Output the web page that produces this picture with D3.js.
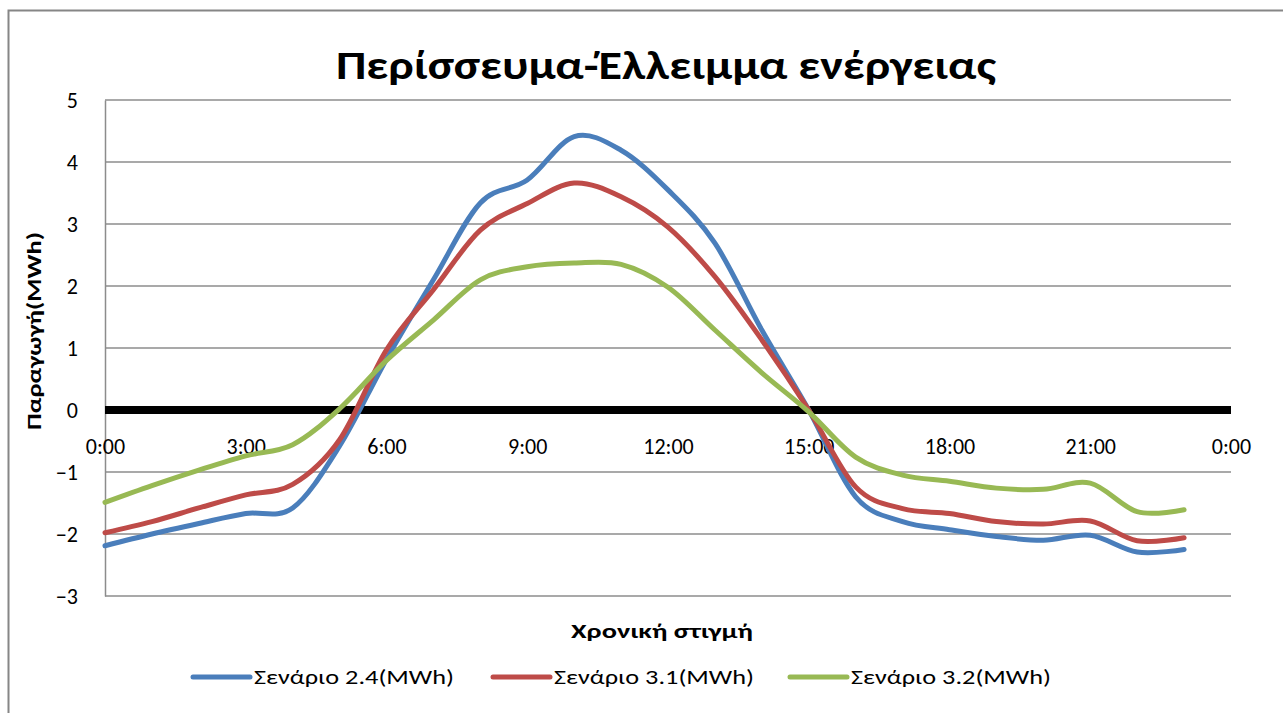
<!DOCTYPE html>
<html>
<head>
<meta charset="utf-8">
<script src="https://cdn.jsdelivr.net/npm/d3@7"></script>
<style>
  html, body { margin: 0; padding: 0; background: #fff; }
  svg { display: block; font-family: Carlito, Calibri, "Open Sans", "Noto Sans", sans-serif; }
</style>
</head>
<body>
<svg id="chart" width="1283" height="713"></svg>
<script>
// Hourly energy balance (MWh) for three scenarios
const hours = d3.range(0, 24);
const scenario24 = [-2.19, -2.0, -1.83, -1.67, -1.58, -0.58, 0.82, 2.1, 3.34, 3.71, 4.41, 4.19, 3.55, 2.69, 1.29, 0.0, -1.4, -1.8, -1.93, -2.04, -2.1, -2.02, -2.29, -2.25];
const scenario31 = [-1.98, -1.8, -1.58, -1.37, -1.2, -0.48, 0.97, 1.94, 2.9, 3.33, 3.66, 3.44, 2.95, 2.15, 1.13, 0.0, -1.24, -1.59, -1.67, -1.8, -1.84, -1.79, -2.11, -2.06];
const scenario32 = [-1.49, -1.22, -0.97, -0.74, -0.56, 0.02, 0.8, 1.45, 2.1, 2.31, 2.37, 2.35, 1.98, 1.29, 0.6, -0.03, -0.76, -1.05, -1.15, -1.26, -1.28, -1.18, -1.64, -1.61];

const seriesNames = ["Σενάριο 2.4(MWh)", "Σενάριο 3.1(MWh)", "Σενάριο 3.2(MWh)"];
const seriesColors = ["#4A7EBB", "#BE4B48", "#98B954"];
const xTickHours = [0, 3, 6, 9, 12, 15, 18, 21, 24];
const xTickLabels = ["0:00", "3:00", "6:00", "9:00", "12:00", "15:00", "18:00", "21:00", "0:00"];
const yTicks = [5, 4, 3, 2, 1, 0, -1, -2, -3];

const titleText = "Περίσσευμα-Έλλειμμα ενέργειας";
const xTitle = "Χρονική στιγμή";
const yTitle = "Παραγωγή(MWh)";

const svg = d3.select("#chart");
const W = 1283, H = 713;
const plot = { left: 105, right: 1231, top: 100, bottom: 596 };

// chart frame (right and bottom edges run off the canvas)
svg.append("rect")
  .attr("x", 8.5).attr("y", 10.5)
  .attr("width", W + 20).attr("height", H + 20)
  .attr("fill", "#fff").attr("stroke", "#868686").attr("stroke-width", 2);

const x = d3.scaleLinear().domain([0, 24]).range([plot.left, plot.right]);
const y = d3.scaleLinear().domain([-3, 5]).range([plot.bottom, plot.top]);

// horizontal gridlines
svg.append("g")
  .selectAll("line")
  .data(yTicks.filter(d => d !== 0))
  .join("line")
  .attr("x1", plot.left).attr("x2", plot.right)
  .attr("y1", d => y(d)).attr("y2", d => y(d))
  .attr("stroke", "#8C8C8C").attr("stroke-width", 1.5);

// vertical value axis
const yAxis = svg.append("g")
  .attr("transform", `translate(${plot.left},0)`)
  .call(d3.axisLeft(y).tickValues(yTicks).tickSize(0).tickPadding(0).tickFormat(d3.format("d")));
yAxis.select(".domain").attr("stroke", "#8C8C8C").attr("stroke-width", 1.5);
yAxis.selectAll("text")
  .attr("x", -27)
  .attr("text-anchor", "end")
  .attr("dy", "0.36em")
  .style("font-size", "22px")
  .style("font-family", "Carlito, Calibri, 'Open Sans', sans-serif")
  .attr("fill", "#000");

// category axis sitting on the zero line
const xAxis = svg.append("g")
  .attr("transform", `translate(0,${y(0)})`)
  .call(d3.axisBottom(x).tickValues(xTickHours).tickSize(0).tickPadding(0)
    .tickFormat((d, i) => xTickLabels[i]));
xAxis.select(".domain").remove();
xAxis.selectAll("text")
  .attr("y", 44)
  .attr("dy", 0)
  .style("font-size", "22px")
  .style("font-family", "Carlito, Calibri, 'Open Sans', sans-serif")
  .attr("fill", "#000");

// bold zero line
svg.append("line")
  .attr("x1", plot.left).attr("x2", plot.right)
  .attr("y1", y(0)).attr("y2", y(0))
  .attr("stroke", "#000").attr("stroke-width", 8);

// smoothed series lines
const allSeries = [scenario24, scenario31, scenario32];
const line = d3.line()
  .x((d, i) => x(hours[i]))
  .y(d => y(d))
  .curve(d3.curveCatmullRom.alpha(0));

svg.append("g")
  .selectAll("path")
  .data(allSeries)
  .join("path")
  .attr("d", d => line(d))
  .attr("fill", "none")
  .attr("stroke", (d, i) => seriesColors[i])
  .attr("stroke-width", 5)
  .attr("stroke-linejoin", "round")
  .attr("stroke-linecap", "round");

// title
svg.append("text")
  .attr("x", 666).attr("y", 79)
  .attr("text-anchor", "middle")
  .attr("textLength", 660).attr("lengthAdjust", "spacingAndGlyphs")
  .style("font-size", "41px").style("font-weight", "bold")
  .text(titleText);

// axis titles
svg.append("text")
  .attr("x", 662).attr("y", 638)
  .attr("text-anchor", "middle")
  .attr("textLength", 182).attr("lengthAdjust", "spacingAndGlyphs")
  .style("font-size", "21px").style("font-weight", "bold")
  .text(xTitle);

svg.append("text")
  .attr("transform", `translate(41,331) rotate(-90)`)
  .attr("text-anchor", "middle")
  .attr("textLength", 198).attr("lengthAdjust", "spacingAndGlyphs")
  .style("font-size", "21px").style("font-weight", "bold")
  .text(yTitle);

// legend
const legendX = [193, 493, 790];
const legend = svg.append("g")
  .selectAll("g")
  .data(seriesNames)
  .join("g")
  .attr("transform", (d, i) => `translate(${legendX[i]},677)`);
legend.append("line")
  .attr("x1", 0).attr("x2", 57)
  .attr("stroke", (d, i) => seriesColors[i])
  .attr("stroke-width", 5).attr("stroke-linecap", "round");
legend.append("text")
  .attr("x", 61).attr("y", 0).attr("dy", "0.35em")
  .attr("textLength", 200).attr("lengthAdjust", "spacingAndGlyphs")
  .style("font-size", "21px")
  .text(d => d);
</script>
</body>
</html>
